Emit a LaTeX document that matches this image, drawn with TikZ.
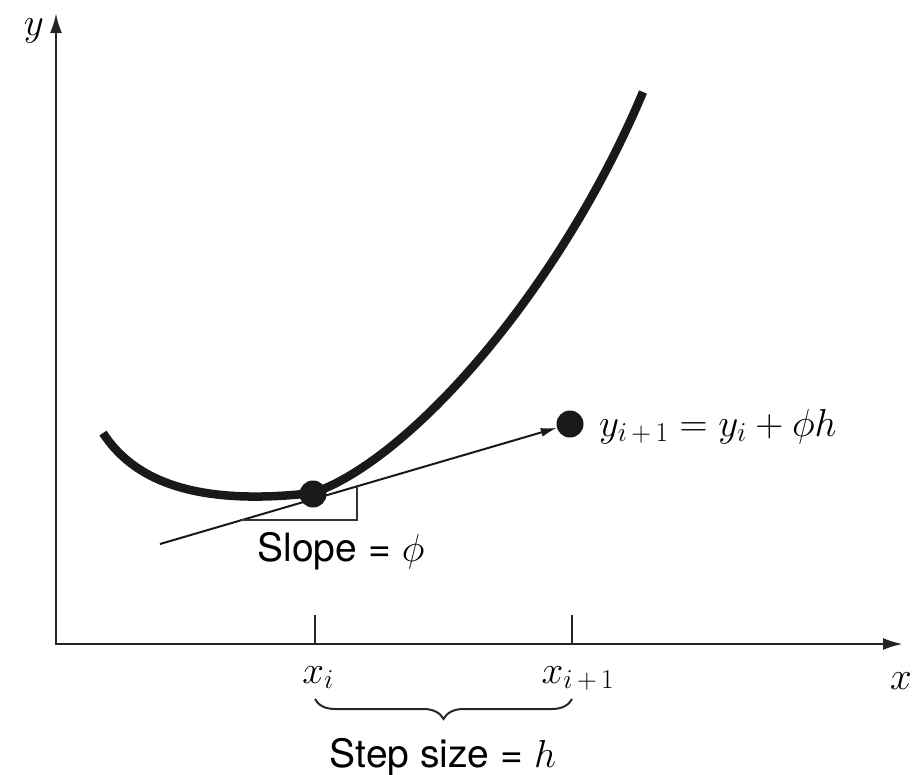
\RequirePackage{fix-cm}
\documentclass[tikz,border=0pt]{standalone}
\usepackage{fontspec}
\setsansfont{TeX Gyre Heros}
\usetikzlibrary{arrows.meta,decorations.pathreplacing}
\begin{document}
\begin{tikzpicture}[x=1pt,y=-1pt,
  axis/.style={line width=2.6pt,draw=black!85,{Latex[length=20pt,width=12pt]}-{Latex[length=20pt,width=12pt]}},
  tick/.style={line width=2.2pt,draw=black!85},
  curvestyle/.style={line width=8.5pt,draw=black!90},
  tangent/.style={line width=2pt,draw=black!90,-{Latex[length=16pt,width=9pt]}},
  tri/.style={line width=1.8pt,draw=black!80},
  dot/.style={circle,fill=black!90,inner sep=0pt,minimum size=27pt},
  mathlbl/.style={font=\fontsize{39}{46}\selectfont,inner sep=0pt},
  sanslbl/.style={font=\fontsize{39}{46}\selectfont\sffamily,inner sep=0pt},
  bracestyle/.style={line width=2pt,draw=black!85,decorate,decoration={brace,mirror,amplitude=20pt}}
]
\useasboundingbox (0,0) rectangle (913,774);
% axes
\coordinate (O) at (56,644);
\coordinate (ytop) at (56,13);
\coordinate (xend) at (903,644);
\draw[axis] (ytop) -- (O) -- (xend);
% ticks
\coordinate (t1) at (315,644);
\coordinate (t1up) at (315,615);
\coordinate (t2) at (572,644);
\coordinate (t2up) at (572,615);
\draw[tick] (t1) -- (t1up);
\draw[tick] (t2) -- (t2up);
% curve
\coordinate (C0) at (103,433);
\coordinate (C1) at (313,493);
\coordinate (C2) at (643,92);
\draw[curvestyle] (C0) .. controls (138,487) and (208,505) .. (C1)
  .. controls (410,460) and (560,290) .. (C2);
% points
\node[dot] (P) at (313,494) {};
\node[dot] (Q) at (570,424) {};
% tangent
\coordinate (T0) at (160,544);
\draw[tangent] (T0) -- (Q);
% slope triangle
\coordinate (S1) at (240,520);
\coordinate (S2) at (357,520);
\coordinate (S3) at (357,485);
\draw[tri] (S1) -- (S2) -- (S3);
% labels
\node[mathlbl,anchor=base] (ylbl) at (34,35) {$y$};
\node[mathlbl,anchor=base east] (xlbl) at (912,689) {$x$};
\node[mathlbl,anchor=base] (xi) at (318,683) {$x_i$};
\node[mathlbl,anchor=base] (xip) at (578,683) {$x_{i\,+\,1}$};
\node[mathlbl,anchor=base west] (eq) at (599,436) {$y_{i\,+\,1} = y_i + \phi h$};
\node[sanslbl,anchor=base] (slope) at (341,561) {Slope = $\phi$};
\node[sanslbl,anchor=base] (step) at (443,767) {Step size = $h$};
% brace
\coordinate (B1) at (315,699);
\coordinate (B2) at (572,699);
\draw[bracestyle] (B1) -- (B2);
\end{tikzpicture}
\end{document}
